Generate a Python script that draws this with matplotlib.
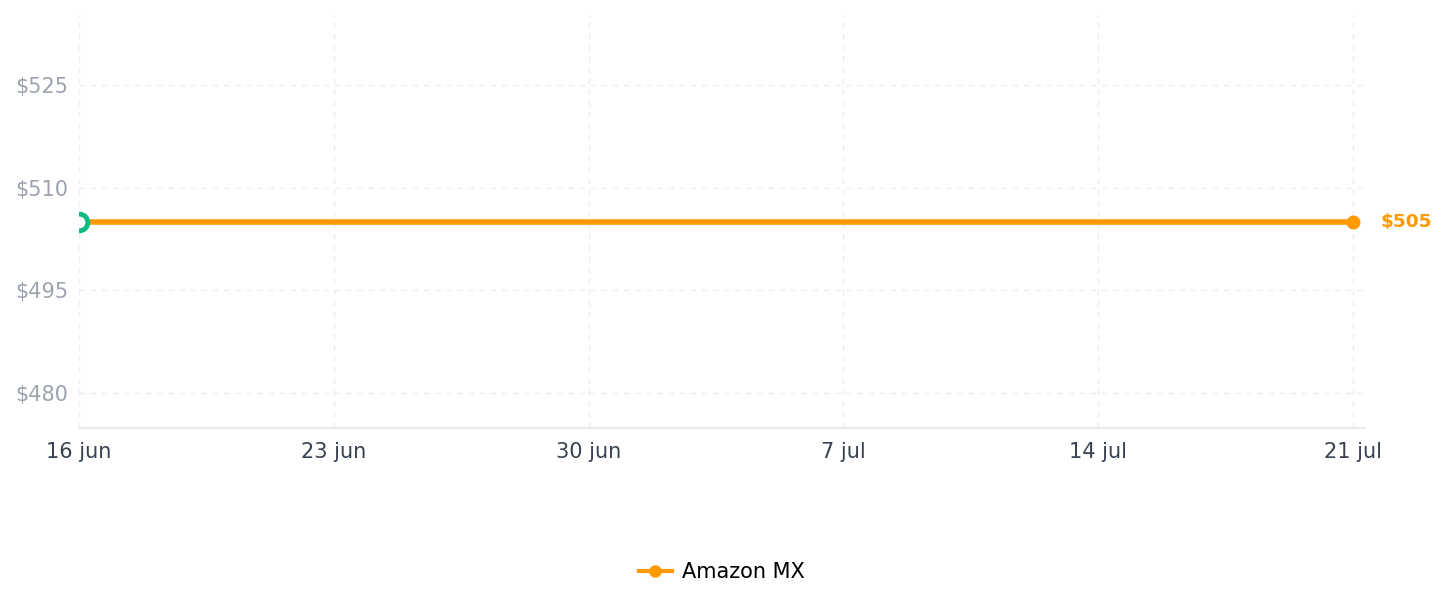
import numpy as np
import matplotlib.pyplot as plt
import matplotlib.dates as mdates
from datetime import datetime, timedelta

# data
dates = [datetime(2024, 6, 16), datetime(2024, 7, 21)]
prices = [505, 505]
series_name = 'Amazon MX'
last_label = '$505'

tick_dates = [datetime(2024, 6, 16) + timedelta(days=7 * i) for i in range(6)]
tick_labels = ['16 jun', '23 jun', '30 jun', '7 jul', '14 jul', '21 jul']
y_ticks = [480, 495, 510, 525]

orange = '#ff9900'
green = '#10b981'

fig = plt.figure(figsize=(14.47, 6.07), dpi=100)
ax = fig.add_axes([79 / 1447, 1 - 428 / 607, (1365 - 79) / 1447, (428 - 15) / 607])

ax.plot(dates, prices, color=orange, linewidth=4, marker='o', markersize=9,
        markevery=[1], label=series_name, zorder=3)
ax.plot(dates[0], prices[0], marker='o', markersize=12, markerfacecolor='white',
        markeredgecolor=green, markeredgewidth=3.5, linestyle='none', zorder=4)

ax.text(dates[-1] + timedelta(days=0.75), prices[-1], last_label, color=orange,
        fontsize=13.3, fontweight='bold', va='center', ha='left', clip_on=False)

ax.set_xlim(dates[0], dates[-1] + timedelta(days=0.33))
ax.set_ylim(474.9, 535.2)

ax.set_xticks(tick_dates)
ax.set_xticklabels(tick_labels)
ax.set_yticks(y_ticks)
ax.set_yticklabels([f'${v}' for v in y_ticks])

ax.tick_params(axis='x', colors='#374151', labelsize=15, length=0, pad=10)
ax.tick_params(axis='y', colors='#9ca3af', labelsize=15, length=0, pad=8)

ax.grid(True, color='#eeeeee', linestyle=(0, (4, 4)), linewidth=1)
for side in ['top', 'right', 'left']:
    ax.spines[side].set_visible(False)
ax.spines['bottom'].set_color('#e5e7eb')
ax.spines['bottom'].set_linewidth(1.2)

fig.legend(handles=[ax.lines[0]], labels=[series_name], loc='center',
           bbox_to_anchor=(722 / 1447, 1 - 572 / 607), frameon=False,
           fontsize=15, handlelength=1.6, handletextpad=0.5)
for h in fig.legends[0].legend_handles:
    h.set_linewidth(3)
    h.set_markersize(8)

fig.savefig('out.png', dpi=100)
